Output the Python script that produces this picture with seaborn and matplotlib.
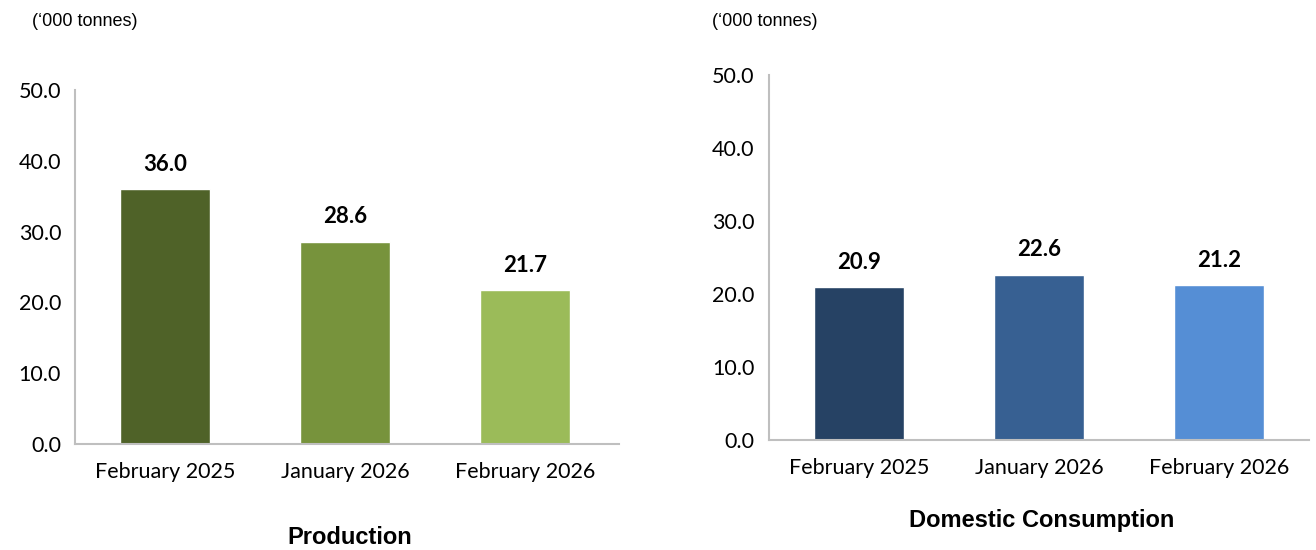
import numpy as np
import pandas as pd
import matplotlib.pyplot as plt
import seaborn as sns

sns.set_style('white')
plt.rcParams['text.color'] = 'black'
plt.rcParams['xtick.color'] = 'black'
plt.rcParams['ytick.color'] = 'black'

# dados
months = ['February 2025', 'January 2026', 'February 2026']
production = [36.0, 28.6, 21.7]
consumption = [20.9, 22.6, 21.2]
prod_colors = ['#4F6228', '#77933C', '#9BBB59']
cons_colors = ['#264264', '#376092', '#558ED5']
unit_label = '(\u2018000 tonnes)'

tick_font = ['Lato', 'DejaVu Sans']
title_font = ['Liberation Sans', 'DejaVu Sans']

fig = plt.figure(figsize=(13.16, 5.5), dpi=100)
ax1 = fig.add_axes([0.057, 0.193, 0.413, 0.643])
ax2 = fig.add_axes([0.584, 0.200, 0.411, 0.664])


def draw(ax, values, colors, title, xlim, title_y):
    df = pd.DataFrame({'month': months, 'value': values})
    sns.barplot(data=df, x='month', y='value', hue='month', palette=colors,
                width=0.5, legend=False, ax=ax, saturation=1)
    ax.set_ylim(0, 50)
    ax.set_xlim(*xlim)
    ax.set_yticks([0, 10, 20, 30, 40, 50])
    ax.set_yticklabels(['%.1f' % t for t in [0, 10, 20, 30, 40, 50]],
                       fontsize=15.5, family=tick_font)
    ax.set_xticks(range(len(months)))
    ax.set_xticklabels(months, fontsize=15.5, family=tick_font)
    ax.set_xlabel('')
    ax.set_ylabel('')
    for s in ['top', 'right']:
        ax.spines[s].set_visible(False)
    for s in ['left', 'bottom']:
        ax.spines[s].set_color('#BFBFBF')
        ax.spines[s].set_linewidth(1.5)
    ax.tick_params(axis='y', length=5, color='#BFBFBF', width=1.2, pad=5)
    ax.tick_params(axis='x', length=0, pad=13)
    for i, v in enumerate(values):
        ax.annotate('%.1f' % v, (i, v), xytext=(0, 18), textcoords='offset points',
                    ha='center', va='center', fontsize=16, fontweight='bold',
                    family=tick_font)
    pos = ax.get_position()
    fig.text((pos.x0 + pos.x1) / 2 + 0.002, title_y, title, ha='center',
             va='center', fontsize=17, fontweight='bold', family=title_font)


draw(ax1, production, prod_colors, 'Production', (-0.5, 2.517), 1 - 538 / 550)
draw(ax2, consumption, cons_colors, 'Domestic Consumption', (-0.505, 2.5), 1 - 521 / 550)

fig.text(32 / 1316, 1 - 21 / 550, unit_label, ha='left', va='center',
         fontsize=13, family=title_font)
fig.text(712 / 1316, 1 - 21 / 550, unit_label, ha='left', va='center',
         fontsize=13, family=title_font)

plt.savefig('out.png', dpi=100)
